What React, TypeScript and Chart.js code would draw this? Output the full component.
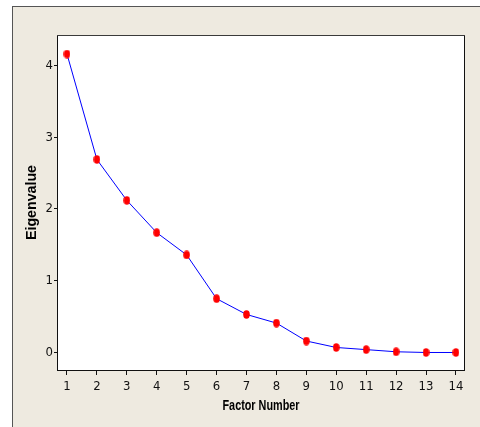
import React, { useEffect, useRef } from "react";
import { Chart, registerables } from "chart.js";

Chart.register(...registerables);

const factorNumbers = [1, 2, 3, 4, 5, 6, 7, 8, 9, 10, 11, 12, 13, 14];
const eigenvalues = [4.16, 2.69, 2.12, 1.67, 1.36, 0.75, 0.53, 0.41, 0.16, 0.07, 0.04, 0.01, 0.0, 0.0];
const xTickValues = [1, 2, 3, 4, 5, 6, 7, 8, 9, 10, 11, 12, 13, 14];
const yTickValues = [0, 1, 2, 3, 4];
const xTitle = "Factor Number";
const yTitle = "Eigenvalue";

const tickFont = { family: "'DejaVu Sans Condensed', 'DejaVu Sans', sans-serif", size: 13 };
const titleFontCss = "bold 14px 'Liberation Sans', Arial, sans-serif";

function makeDot(): HTMLCanvasElement {
  const c = document.createElement("canvas");
  c.width = 7;
  c.height = 9;
  const ctx = c.getContext("2d")!;
  ctx.fillStyle = "#FF0000";
  ctx.beginPath();
  ctx.ellipse(3.5, 4.5, 3.3, 4.2, 0, 0, Math.PI * 2);
  ctx.fill();
  return c;
}

function drawSqueezedTitle(ctx: CanvasRenderingContext2D, text: string, cx: number, baseline: number, targetW: number, vertical: boolean) {
  ctx.save();
  ctx.font = titleFontCss;
  const w = ctx.measureText(text).width;
  ctx.translate(cx, baseline);
  if (vertical) ctx.rotate(-Math.PI / 2);
  ctx.scale(targetW / w, 1);
  ctx.textAlign = "center";
  ctx.textBaseline = "alphabetic";
  ctx.fillStyle = "#000000";
  ctx.fillText(text, 0, 0);
  ctx.restore();
}

const framePlugin = {
  id: "frameBox",
  beforeDraw(chart: any) {
    const { ctx, chartArea } = chart;
    const { left, top, right, bottom } = chartArea;
    ctx.save();
    ctx.fillStyle = "#FFFFFF";
    ctx.fillRect(left, top, right - left, bottom - top);
    ctx.restore();
  },
  afterDraw(chart: any) {
    const { ctx, chartArea } = chart;
    const { left, top, right, bottom } = chartArea;
    ctx.save();
    ctx.lineWidth = 1;
    ctx.strokeStyle = "#111111";
    ctx.beginPath();
    ctx.moveTo(left - 0.5, top);
    ctx.lineTo(left - 0.5, bottom + 1);
    ctx.moveTo(right + 0.5, top);
    ctx.lineTo(right + 0.5, bottom + 1);
    ctx.moveTo(left - 1, bottom + 0.5);
    ctx.lineTo(right + 1, bottom + 0.5);
    ctx.stroke();
    ctx.strokeStyle = "#3a3a3a";
    ctx.beginPath();
    ctx.moveTo(left - 1, top + 0.5);
    ctx.lineTo(right + 1, top + 0.5);
    ctx.stroke();
    ctx.restore();

    drawSqueezedTitle(ctx, xTitle, (left + right) / 2, bottom + 40, 77, false);
    drawSqueezedTitle(ctx, yTitle, left - 22.5, (top + bottom) / 2, 75, true);
  },
};

export default function App() {
  const ref = useRef<HTMLCanvasElement | null>(null);

  useEffect(() => {
    if (!ref.current) return;
    const points = factorNumbers.map((x, i) => ({ x, y: eigenvalues[i] }));
    const dot = makeDot();
    const chart = new Chart(ref.current, {
      type: "line",
      data: {
        datasets: [
          {
            data: points,
            borderColor: "#0000FF",
            borderWidth: 1,
            tension: 0,
            fill: false,
            pointStyle: dot as any,
            pointRadius: 4,
            pointBackgroundColor: "#FF0000",
            pointBorderWidth: 0,
          },
        ],
      },
      options: {
        animation: false,
        responsive: false,
        devicePixelRatio: 1,
        layout: { padding: { top: 35, right: 16, left: 0, bottom: 0 } },
        plugins: { legend: { display: false }, tooltip: { enabled: false } },
        scales: {
          x: {
            type: "linear",
            min: 0.7,
            max: 14.27,
            afterFit: (s: any) => {
              s.height = 57;
            },
            afterBuildTicks: (s: any) => {
              s.ticks = xTickValues.map((v) => ({ value: v }));
            },
            ticks: { font: tickFont, color: "#111", padding: 4, maxRotation: 0, autoSkip: false, callback: (v: any) => String(v) },
            grid: { drawOnChartArea: false, drawTicks: true, tickLength: 5, color: "#111", lineWidth: 1 },
            border: { display: false },
            title: { display: false },
          },
          y: {
            type: "linear",
            min: -0.244,
            max: 4.425,
            afterFit: (s: any) => {
              s.width = 58;
            },
            afterBuildTicks: (s: any) => {
              s.ticks = yTickValues.map((v) => ({ value: v }));
            },
            ticks: { font: tickFont, color: "#111", padding: 1, autoSkip: false, callback: (v: any) => String(v) },
            grid: { drawOnChartArea: false, drawTicks: true, tickLength: 4, color: "#111", lineWidth: 1 },
            border: { display: false },
            title: { display: false },
          },
        },
      },
      plugins: [framePlugin],
    });
    return () => chart.destroy();
  }, []);

  return (
    <div style={{ position: "fixed", left: 0, top: 0, width: 480, height: 427, background: "#FFFFFF", overflow: "hidden" }}>
      <div
        style={{
          position: "absolute",
          left: 12,
          top: 6,
          width: 468,
          height: 421,
          boxSizing: "border-box",
          borderTop: "1px solid #555",
          borderLeft: "1px solid #555",
          background: "#EEEAE0",
        }}
      />
      <canvas ref={ref} width={480} height={427} style={{ position: "absolute", left: 0, top: 0, width: 480, height: 427 }} />
    </div>
  );
}
